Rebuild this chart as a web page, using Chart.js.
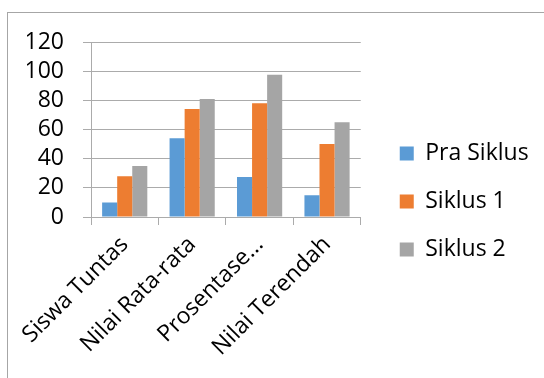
<!DOCTYPE html>
<html>
<head>
<meta charset="utf-8">
<script src="https://cdn.jsdelivr.net/npm/chart.js"></script>
<style>
  html, body { margin: 0; padding: 0; background: #fff; overflow: hidden; }
  #wrap { position: relative; width: 544px; height: 378px; }
  #frame { position: absolute; left: 7px; top: 12px; width: 600px; height: 420px; border: 1px solid #a6a6a6; }
  #chart { position: absolute; left: 0; top: 0; }
</style>
</head>
<body>
<div id="wrap">
  <div id="frame"></div>
  <canvas id="chart" width="544" height="378"></canvas>
</div>
<script>
var categories = ['Siswa Tuntas', 'Nilai Rata-rata', 'Prosentase...', 'Nilai Terendah'];
var seriesNames = ['Pra Siklus', 'Siklus 1', 'Siklus 2'];
var praSiklus = [10, 54, 27.5, 15];
var siklus1 = [28, 74, 78, 50];
var siklus2 = [35, 81, 97.5, 65];
var yTicks = [0, 20, 40, 60, 80, 100, 120];

var colors = ['#5b9bd5', '#ed7d31', '#a5a5a5'];
var gridColor = '#ababab';
var fontFamily = '"Open Sans", "Liberation Sans", sans-serif';

// put the legend a fixed gap right of the plot, like the office chart does
var legendShift = {
    id: 'legendShift',
    afterLayout: function(chart) {
        var lg = chart.legend;
        lg.left = chart.chartArea.right + 14;
        lg.right = chart.width;
        lg.width = lg.right - lg.left;
        lg.top -= 3;
        lg.bottom -= 3;
    }
};

var ctx = document.getElementById('chart');
new Chart(ctx, {
    type: 'bar',
    data: {
        labels: categories,
        datasets: [
            { label: seriesNames[0], data: praSiklus, backgroundColor: colors[0] },
            { label: seriesNames[1], data: siklus1, backgroundColor: colors[1] },
            { label: seriesNames[2], data: siklus2, backgroundColor: colors[2] }
        ]
    },
    options: {
        responsive: false,
        animation: false,
        datasets: {
            bar: { barPercentage: 1.0, categoryPercentage: 0.67 }
        },
        layout: {
            padding: { left: 27, top: 42, right: 72, bottom: 11 }
        },
        plugins: {
            tooltip: { enabled: false },
            legend: {
                position: 'right',
                labels: {
                    boxWidth: 14,
                    boxHeight: 14,
                    padding: 25,
                    color: '#000',
                    font: { family: fontFamily, size: 23 }
                }
            }
        },
        scales: {
            x: {
                afterFit: function(scale) { scale.height = 150; },
                grid: {
                    drawOnChartArea: false,
                    color: gridColor,
                    tickLength: 8
                },
                border: { color: gridColor },
                ticks: {
                    minRotation: 45,
                    maxRotation: 45,
                    color: '#000',
                    padding: 6,
                    font: { family: fontFamily, size: 23 }
                }
            },
            y: {
                min: yTicks[0],
                max: yTicks[yTicks.length - 1],
                afterBuildTicks: function(scale) {
                    scale.ticks = yTicks.map(function(v) { return { value: v }; });
                },
                afterFit: function(scale) { scale.width = 64; },
                grid: { color: gridColor, tickLength: 8 },
                border: { color: gridColor },
                ticks: {
                    autoSkip: false,
                    color: '#000',
                    padding: 19,
                    font: { family: fontFamily, size: 23 }
                }
            }
        }
    },
    plugins: [legendShift]
});
</script>
</body>
</html>
